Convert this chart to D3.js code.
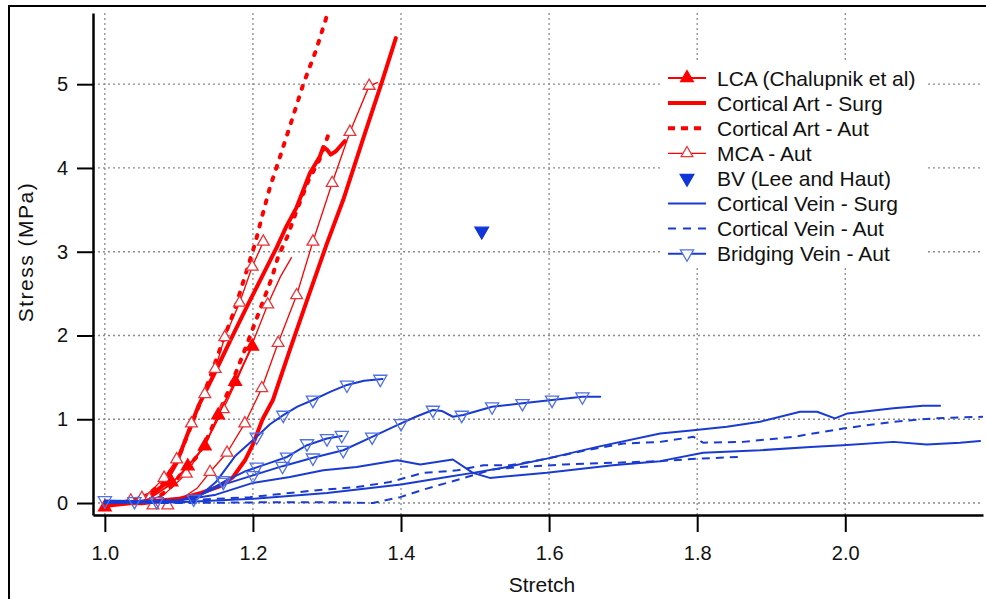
<!DOCTYPE html>
<html lang="en">
<head>
    <meta charset="utf-8">
    <title>Stress vs Stretch</title>
    <script src="https://d3js.org/d3.v7.min.js"></script>
    <style>
        body { margin: 0; background: #fff; }
        svg { display: block; font-family: "Liberation Sans", Arial, sans-serif; }
        .grid line { stroke: #8a8a8a; stroke-width: 1.3; stroke-dasharray: 2,3; }
        .axis path { stroke: #000; stroke-width: 2.5; }
        .axis line { stroke: #000; stroke-width: 2; }
        .axis text { font-size: 20px; fill: #111; }
    </style>
</head>
<body>
<svg id="chart" width="986" height="599"></svg>
<script>
    // axes
    const xDomain = [0.984, 2.186];
    const yDomain = [-0.143, 5.85];
    const xTicks = [1.0, 1.2, 1.4, 1.6, 1.8, 2.0];
    const yTicks = [0, 1, 2, 3, 4, 5];

    // --- red : arteries ---
    const lca = [[1.0,-0.05],[1.03,-0.02],[1.06,0.05],[1.09,0.23],[1.112,0.44],[1.135,0.68],[1.153,1.05],[1.176,1.45],[1.199,1.87]];
    const lcaMarks = [[1.0,-0.05],[1.09,0.25],[1.112,0.44],[1.135,0.68],[1.153,1.05],[1.176,1.45],[1.199,1.87]];

    const artSurg1 = [[1.0,0],[1.05,0.01],[1.1,0.05],[1.13,0.12],[1.155,0.2],[1.173,0.31],[1.19,0.52],[1.2,0.7],[1.213,1.0],[1.227,1.23],[1.25,1.83],[1.273,2.42],[1.3,3.1],[1.322,3.62],[1.35,4.38],[1.375,5.05],[1.393,5.55]];
    const artSurg2 = [[1.0,-0.03],[1.03,0.02],[1.06,0.08],[1.08,0.22],[1.097,0.48],[1.115,0.9],[1.126,1.15],[1.151,1.6],[1.17,1.95],[1.195,2.4],[1.215,2.75],[1.232,3.05],[1.245,3.3],[1.259,3.53],[1.277,3.94],[1.29,4.13],[1.295,4.25],[1.3,4.22],[1.305,4.16],[1.312,4.2],[1.32,4.28],[1.324,4.32]];

    const artAut1 = [[1.02,0],[1.05,0.05],[1.08,0.25],[1.1,0.55],[1.12,1.0],[1.14,1.45],[1.16,1.95],[1.175,2.3],[1.189,2.7],[1.203,3.1],[1.212,3.41],[1.223,3.77],[1.232,4.01],[1.25,4.5],[1.268,5.0],[1.285,5.4],[1.30,5.82]];
    const artAut2 = [[1.03,0],[1.07,0.05],[1.09,0.2],[1.104,0.36],[1.124,0.55],[1.139,0.79],[1.15,1.0],[1.17,1.4],[1.19,1.85],[1.207,2.25],[1.226,2.7],[1.234,2.94],[1.246,3.17],[1.259,3.49],[1.275,3.85],[1.29,4.1],[1.304,4.45]];

    const mca1 = [[1.0,-0.02],[1.03,0.02],[1.06,0.12],[1.08,0.3],[1.097,0.52],[1.117,0.95],[1.135,1.3],[1.149,1.6],[1.162,1.98],[1.182,2.39],[1.199,2.82],[1.214,3.12]];
    const mca1Marks = [[1.05,0.06],[1.08,0.3],[1.097,0.52],[1.117,0.95],[1.135,1.3],[1.149,1.6],[1.162,1.98],[1.182,2.39],[1.199,2.82],[1.214,3.12]];
    const mca2 = [[1.0,-0.02],[1.05,-0.02],[1.1,0.03],[1.125,0.18],[1.142,0.37],[1.165,0.6],[1.189,0.95],[1.212,1.37],[1.234,1.91],[1.259,2.48],[1.281,3.12],[1.307,3.82],[1.331,4.43],[1.357,4.98],[1.368,5.02]];
    const mca2Marks = [[1.065,-0.03],[1.085,-0.03],[1.142,0.37],[1.165,0.6],[1.189,0.95],[1.212,1.37],[1.234,1.91],[1.259,2.48],[1.281,3.12],[1.307,3.82],[1.331,4.43],[1.357,4.98]];
    const mca3 = [[1.0,0],[1.05,0.0],[1.08,0.1],[1.11,0.35],[1.135,0.7],[1.16,1.12],[1.18,1.5],[1.2,1.92],[1.22,2.37],[1.237,2.7],[1.252,2.93]];
    const mca3Marks = [[1.035,0.03],[1.06,0.05],[1.11,0.35],[1.16,1.12],[1.22,2.37]];

    // --- blue : veins ---
    const bvLeeHaut = [[1.509,3.246]];

    const veinSurg1 = [[1.0,0.01],[1.1,0.03],[1.15,0.1],[1.2,0.24],[1.25,0.31],[1.295,0.39],[1.34,0.43],[1.395,0.51],[1.426,0.46],[1.47,0.52],[1.497,0.36],[1.52,0.3],[1.597,0.36],[1.686,0.45],[1.75,0.5],[1.808,0.6],[1.885,0.63],[1.953,0.67],[1.997,0.69],[2.065,0.73],[2.11,0.7],[2.155,0.72],[2.182,0.74]];
    const veinSurg2 = [[1.0,0],[1.1,0.01],[1.2,0.05],[1.3,0.12],[1.4,0.22],[1.462,0.31],[1.497,0.36],[1.538,0.42],[1.597,0.53],[1.665,0.67],[1.75,0.83],[1.795,0.87],[1.84,0.91],[1.885,0.97],[1.939,1.09],[1.962,1.09],[1.986,1.01],[2.003,1.07],[2.065,1.13],[2.105,1.16],[2.128,1.16]];

    const veinAut1 = [[1.0,0.02],[1.1,0.03],[1.15,0.05],[1.196,0.07],[1.25,0.12],[1.295,0.16],[1.34,0.19],[1.385,0.25],[1.43,0.36],[1.476,0.39],[1.511,0.45],[1.547,0.45],[1.597,0.53],[1.65,0.63],[1.7,0.71],[1.75,0.73],[1.795,0.79],[1.808,0.72],[1.862,0.73],[1.93,0.79],[1.997,0.89],[2.065,0.97],[2.119,1.01],[2.186,1.03]];
    const veinAut2 = [[1.0,0],[1.1,0.0],[1.232,0.01],[1.3,0.01],[1.362,0.0],[1.399,0.07],[1.43,0.16],[1.466,0.25],[1.524,0.4],[1.56,0.43],[1.62,0.46],[1.686,0.48],[1.75,0.5],[1.8,0.53],[1.858,0.55]];

    const bridge1 = [[1.0,0.02],[1.1,0.03],[1.13,0.1],[1.15,0.25],[1.176,0.56],[1.205,0.79],[1.223,0.94],[1.241,1.05],[1.26,1.15],[1.281,1.23],[1.305,1.33],[1.327,1.41],[1.35,1.46],[1.375,1.48]];
    const bridge1Marks = [[1.0,0.03],[1.159,0.27],[1.205,0.79],[1.241,1.05],[1.281,1.23],[1.327,1.41],[1.372,1.48]];
    const bridge2 = [[1.0,0.03],[1.05,0.02],[1.1,0.03],[1.13,0.1],[1.16,0.22],[1.2,0.33],[1.24,0.44],[1.281,0.54],[1.322,0.63],[1.361,0.79],[1.4,0.95],[1.42,1.03],[1.443,1.11],[1.455,1.1],[1.47,1.03],[1.484,1.05],[1.523,1.15],[1.564,1.19],[1.604,1.23],[1.645,1.27],[1.669,1.27]];
    const bridge2Marks = [[1.04,0.02],[1.12,0.05],[1.2,0.33],[1.24,0.44],[1.281,0.54],[1.322,0.63],[1.361,0.79],[1.4,0.95],[1.443,1.11],[1.482,1.05],[1.523,1.15],[1.564,1.19],[1.604,1.23],[1.645,1.27]];
    const bridge3 = [[1.0,0.02],[1.1,0.03],[1.13,0.1],[1.16,0.25],[1.19,0.38],[1.22,0.47],[1.246,0.55],[1.273,0.69],[1.3,0.77],[1.32,0.8]];
    const bridge3Marks = [[1.07,0.02],[1.16,0.25],[1.205,0.43],[1.246,0.55],[1.273,0.71],[1.3,0.77],[1.32,0.81]];

    const legendLabels = ["LCA (Chalupnik et al)", "Cortical Art - Surg", "Cortical Art - Aut", "MCA - Aut",
        "BV (Lee and Haut)", "Cortical Vein - Surg", "Cortical Vein - Aut", "Bridging Vein - Aut"];

    // styles
    const RED = "#ff0000", BLUE = "#1a3bd2", LBLUE = "#4f70e6";
    const styles = {
        lca:      {stroke: RED, width: 1.8, dash: null, marker: "up", fill: RED, mstroke: RED, msize: 70},
        artSurg:  {stroke: RED, width: 4, dash: null},
        artAut:   {stroke: RED, width: 4, dash: "3,9", cap: "round", legendDash: "7,6"},
        mca:      {stroke: RED, width: 1.3, dash: null, marker: "up", fill: "#fff", mstroke: "#e8353a", msize: 60},
        bvLee:    {marker: "down", fill: "#1035d8", mstroke: "#1035d8", msize: 80},
        veinSurg: {stroke: BLUE, width: 2, dash: null},
        veinAut:  {stroke: BLUE, width: 2, dash: "8,6", legendDash: "8,7"},
        bridge:   {stroke: BLUE, width: 2, dash: null, marker: "down", fill: "none", mstroke: LBLUE, msize: 75}
    };

    const svg = d3.select("#chart");

    const x = d3.scaleLinear().domain(xDomain).range([93, 983]);
    const y = d3.scaleLinear().domain(yDomain).range([515, 13]);

    // frame of the figure
    svg.append("path")
        .attr("d", "M9,599 L9,6 L986,6")
        .attr("fill", "none").attr("stroke", "#000").attr("stroke-width", 2);

    // grid
    const grid = svg.append("g").attr("class", "grid");
    grid.selectAll("line.gx").data(xTicks).enter().append("line")
        .attr("x1", d => x(d)).attr("x2", d => x(d))
        .attr("y1", y.range()[0]).attr("y2", y.range()[1]);
    grid.selectAll("line.gy").data(yTicks).enter().append("line")
        .attr("y1", d => y(d)).attr("y2", d => y(d))
        .attr("x1", x.range()[0]).attr("x2", x.range()[1]);

    svg.append("clipPath").attr("id", "plotClip")
        .append("rect").attr("x", 93).attr("y", 13).attr("width", 890).attr("height", 502);

    const plot = svg.append("g").attr("clip-path", "url(#plotClip)");
    const line = d3.line().x(d => x(d[0])).y(d => y(d[1]));

    function drawLine(pts, st) {
        plot.append("path")
            .datum(pts)
            .attr("d", line)
            .attr("fill", "none")
            .attr("stroke", st.stroke)
            .attr("stroke-width", st.width)
            .attr("stroke-dasharray", st.dash)
            .attr("stroke-linejoin", "round")
            .attr("stroke-linecap", st.cap || (st.dash ? "butt" : "round"));
    }

    function drawMarks(pts, st) {
        const sym = d3.symbol(d3.symbolTriangle, st.msize);
        plot.selectAll(null).data(pts).enter().append("path")
            .attr("d", sym)
            .attr("transform", d => `translate(${x(d[0])},${y(d[1])})` + (st.marker === "down" ? " rotate(180)" : ""))
            .attr("fill", st.fill)
            .attr("stroke", st.mstroke)
            .attr("stroke-width", 1.3);
    }

    // red group
    drawLine(artSurg1, styles.artSurg);
    drawLine(artSurg2, styles.artSurg);
    drawLine(artAut1, styles.artAut);
    drawLine(artAut2, styles.artAut);
    drawLine(mca1, styles.mca);
    drawLine(mca2, styles.mca);
    drawLine(mca3, styles.mca);
    drawMarks(mca1Marks, styles.mca);
    drawMarks(mca2Marks, styles.mca);
    drawMarks(mca3Marks, styles.mca);
    drawLine(lca, styles.lca);
    drawMarks(lcaMarks, styles.lca);

    // blue group
    drawLine(veinSurg1, styles.veinSurg);
    drawLine(veinSurg2, styles.veinSurg);
    drawLine(veinAut1, styles.veinAut);
    drawLine(veinAut2, styles.veinAut);
    drawLine(bridge1, styles.bridge);
    drawLine(bridge2, styles.bridge);
    drawLine(bridge3, styles.bridge);
    drawMarks(bridge1Marks, styles.bridge);
    drawMarks(bridge2Marks, styles.bridge);
    drawMarks(bridge3Marks, styles.bridge);
    drawMarks(bvLeeHaut, styles.bvLee);

    // axes
    svg.append("g")
        .attr("class", "axis")
        .attr("transform", "translate(93,0)")
        .call(d3.axisLeft(y).tickValues(yTicks).tickFormat(d3.format("d"))
            .tickSize(16).tickPadding(9).tickSizeOuter(0));

    svg.append("g")
        .attr("class", "axis")
        .attr("transform", "translate(0,515)")
        .call(d3.axisBottom(x).tickValues(xTicks).tickFormat(d3.format(".1f"))
            .tickSize(17).tickPadding(14).tickSizeOuter(0));

    svg.selectAll(".axis .domain").attr("fill", "none");

    svg.append("text")
        .attr("transform", "translate(33,252) rotate(-90)")
        .attr("text-anchor", "middle")
        .style("font-size", "21px").style("letter-spacing", "1.5px").attr("fill", "#111")
        .text("Stress (MPa)");

    svg.append("text")
        .attr("x", 542).attr("y", 592)
        .attr("text-anchor", "middle")
        .style("font-size", "21px").attr("fill", "#111")
        .text("Stretch");

    // legend
    const legendStyles = [styles.lca, styles.artSurg, styles.artAut, styles.mca,
        styles.bvLee, styles.veinSurg, styles.veinAut, styles.bridge];
    const legend = svg.append("g");
    legend.append("rect")
        .attr("x", 662).attr("y", 62).attr("width", 265).attr("height", 204)
        .attr("fill", "#fff");

    const items = legend.selectAll("g.item").data(legendLabels).enter().append("g")
        .attr("transform", (d, i) => `translate(0,${78 + i * 25.1})`);

    items.each(function(d, i) {
        const st = legendStyles[i];
        const g = d3.select(this);
        if (st.stroke) {
            g.append("line")
                .attr("x1", 668).attr("x2", 706).attr("y1", 0).attr("y2", 0)
                .attr("stroke", st.stroke)
                .attr("stroke-width", st.width)
                .attr("stroke-dasharray", st.legendDash || null);
        }
        if (st.marker) {
            g.append("path")
                .attr("d", d3.symbol(d3.symbolTriangle, st.msize))
                .attr("transform", `translate(687,0)` + (st.marker === "down" ? " rotate(180)" : ""))
                .attr("fill", st.fill === "none" ? "#fff" : st.fill)
                .attr("stroke", st.mstroke)
                .attr("stroke-width", 1.3);
        }
        g.append("text")
            .attr("x", 717).attr("y", 0).attr("dy", "0.36em")
            .style("font-size", "21px").attr("fill", "#111")
            .text(d);
    });
</script>
</body>
</html>
